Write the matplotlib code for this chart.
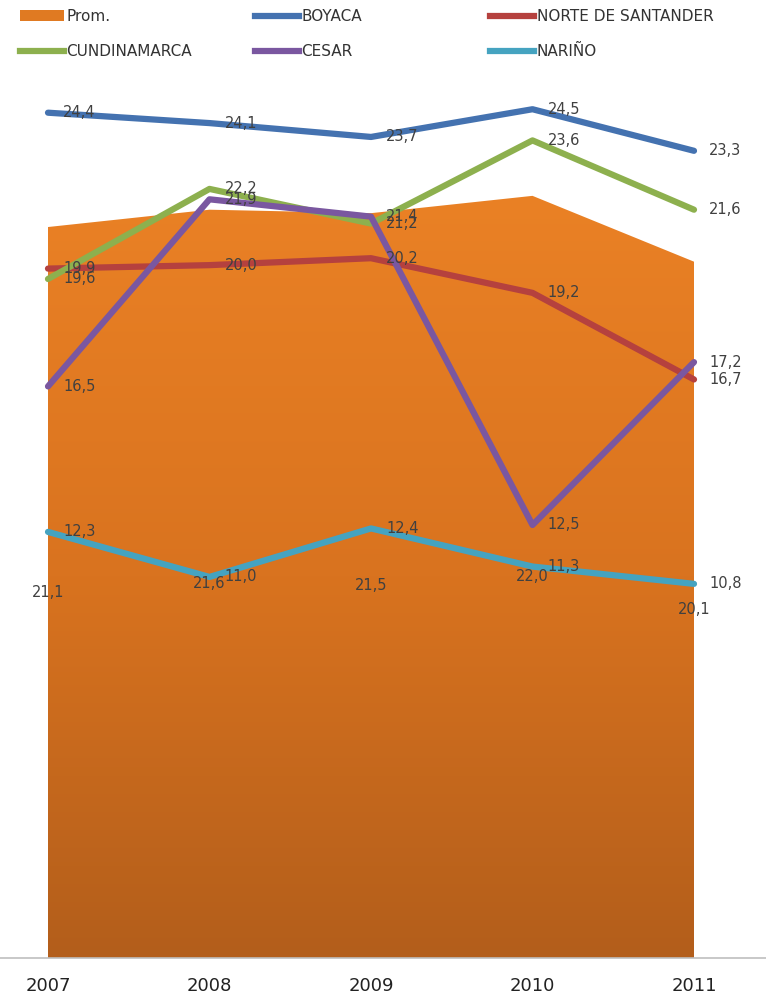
import matplotlib.pyplot as plt
import numpy as np
from matplotlib.lines import Line2D
from matplotlib.patches import Patch
from matplotlib.colors import LinearSegmentedColormap

years = [2007, 2008, 2009, 2010, 2011]
prom = [21.1, 21.6, 21.5, 22.0, 20.1]
boyaca = [24.4, 24.1, 23.7, 24.5, 23.3]
norte = [19.9, 20.0, 20.2, 19.2, 16.7]
cundinamarca = [19.6, 22.2, 21.2, 23.6, 21.6]
cesar = [16.5, 21.9, 21.4, 12.5, 17.2]
narino = [12.3, 11.0, 12.4, 11.3, 10.8]

series = [
  ('BOYACA', boyaca, '#4472B0'),
  ('NORTE DE SANTANDER', norte, '#B5413E'),
  ('CUNDINAMARCA', cundinamarca, '#8DB04E'),
  ('CESAR', cesar, '#7A57A0'),
  ('NARIÑO', narino, '#45A3C0'),
]

def fmt(v):
  return f'{v:.1f}'.replace('.', ',')

plt.rcParams['font.family'] = ['DejaVu Sans']
fig = plt.figure(figsize=(7.66, 9.99), dpi=100)
ax = fig.add_axes([0.0, 0.041, 1.0, 0.867])
x_lo = 2007 - 48 / 161.5
x_hi = 2011 + 72 / 161.5
ax.set_xlim(x_lo, x_hi)
ax.set_ylim(0, 25)

# area with vertical gradient
fill = ax.fill_between(years, 0, prom, color='none', lw=0, zorder=1)
cmap = LinearSegmentedColormap.from_list('prom', ['#B35E1B', '#D9731F', '#EA8125'])
grad = np.linspace(0, 1, 256).reshape(-1, 1)
img = ax.imshow(grad, cmap=cmap, aspect='auto', origin='lower',
                extent=[years[0], years[-1], 0, max(prom)], zorder=1)
img.set_clip_path(fill.get_paths()[0], transform=ax.transData)

for name, vals, col in series:
  ax.plot(years, vals, color=col, lw=4.5, solid_capstyle='round', zorder=3)

for name, vals, col in series:
  for x, v in zip(years, vals):
    ax.annotate(fmt(v), (x, v), xytext=(11, 0), textcoords='offset points',
                ha='left', va='center', fontsize=10.5, color='#404040', zorder=5)

for x, v in zip(years, prom):
  ax.text(x, v / 2, fmt(v), ha='center', va='center', fontsize=10.5,
          color='#404040', zorder=5)

for s in ['top', 'left', 'right']:
  ax.spines[s].set_visible(False)
ax.spines['bottom'].set_color('#BFBFBF')
ax.spines['bottom'].set_linewidth(1.2)
ax.set_yticks([])
ax.set_xticks(years)
ax.set_xticklabels([str(y) for y in years], fontsize=13, color='#222222')
ax.tick_params(axis='x', length=0, pad=14)

# legend in three fixed columns
cols = [
  [(Patch(facecolor='#E07A22'), 'Prom.'),
   (Line2D([], [], color=series[2][2], lw=4.5), 'CUNDINAMARCA')],
  [(Line2D([], [], color=series[0][2], lw=4.5), 'BOYACA'),
   (Line2D([], [], color=series[3][2], lw=4.5), 'CESAR')],
  [(Line2D([], [], color=series[1][2], lw=4.5), 'NORTE DE SANTANDER'),
   (Line2D([], [], color=series[4][2], lw=4.5), 'NARIÑO')],
]
col_x = [20, 255, 490]
for cx, items in zip(col_x, cols):
  leg = fig.legend([h for h, _ in items], [l for _, l in items],
                   loc='upper left', bbox_to_anchor=(cx / 766, 1 - 9 / 999),
                   frameon=False, fontsize=11, borderpad=0, borderaxespad=0,
                   handlelength=2.9, handletextpad=0.15, labelspacing=1.3,
                   labelcolor='#333333')

fig.savefig('out.png', dpi=100)
